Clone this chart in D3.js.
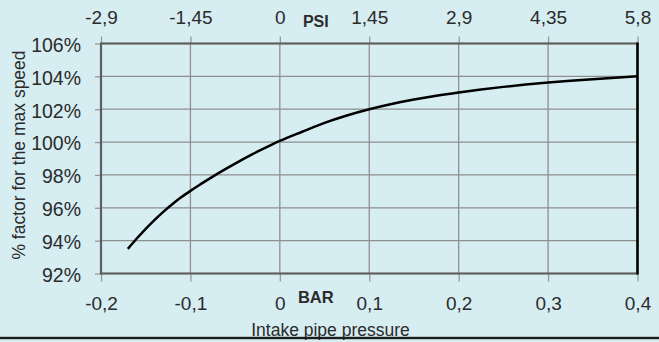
<!DOCTYPE html>
<html>
<head>
<meta charset="utf-8">
<script src="https://cdn.jsdelivr.net/npm/d3@7"></script>
<style>
  html, body { margin: 0; padding: 0; background: #d6edf2; }
  svg { display: block; font-family: "Liberation Sans", Arial, sans-serif; }
</style>
</head>
<body>
<svg id="chart" width="659" height="342"></svg>
<script>
// Intake pipe pressure (bar) and the resulting max-speed factor (%)
const pressureBar = [-0.17, -0.16, -0.15, -0.14, -0.13, -0.12, -0.11, -0.10, -0.09, -0.08,
  -0.07, -0.06, -0.05, -0.04, -0.03, -0.02, -0.01, 0, 0.025, 0.05, 0.075, 0.1, 0.125,
  0.15, 0.175, 0.2, 0.225, 0.25, 0.275, 0.3, 0.325, 0.35, 0.375, 0.4];
const speedFactor = [93.5, 94.13, 94.72, 95.27, 95.77, 96.23, 96.65, 97.03, 97.39, 97.73,
  98.06, 98.38, 98.69, 98.99, 99.28, 99.56, 99.82, 100.07, 100.63, 101.17, 101.62, 102.0, 102.32,
  102.59, 102.82, 103.02, 103.2, 103.36, 103.5, 103.62, 103.73, 103.83, 103.92, 104.0];

// Axis ticks
const barTicks = [-0.2, -0.1, 0, 0.1, 0.2, 0.3, 0.4];
const barTickLabels = ["-0,2", "-0,1", "0", "0,1", "0,2", "0,3", "0,4"];
const psiTicks = [-2.9, -1.45, 0, 1.45, 2.9, 4.35, 5.8];
const psiTickLabels = ["-2,9", "-1,45", "0", "1,45", "2,9", "4,35", "5,8"];
const pctTicks = [92, 94, 96, 98, 100, 102, 104, 106];
const pctTickLabels = ["92%", "94%", "96%", "98%", "100%", "102%", "104%", "106%"];

const svg = d3.select("#chart");
const plotLeft = 101, plotRight = 637.5, plotTop = 43.5, plotBottom = 273.5;

const x = d3.scaleLinear().domain([-0.2, 0.4]).range([plotLeft, plotRight]);
const xPsi = d3.scaleLinear().domain([-2.9, 5.8]).range([plotLeft, plotRight]);
const y = d3.scaleLinear().domain([92, 106]).range([plotBottom, plotTop]);

const textColor = "#2b2b2b";
const gridColor = "#8f8f8f";

// Gridlines
const grid = svg.append("g");
grid.selectAll("line.v").data(barTicks).join("line").attr("class", "v")
  .attr("x1", d => x(d)).attr("x2", d => x(d))
  .attr("y1", plotTop).attr("y2", plotBottom)
  .attr("stroke", gridColor).attr("stroke-width", 1.3);
grid.selectAll("line.h").data(pctTicks).join("line").attr("class", "h")
  .attr("x1", plotLeft).attr("x2", plotRight)
  .attr("y1", d => y(d)).attr("y2", d => y(d))
  .attr("stroke", gridColor).attr("stroke-width", 1.3);

function styleAxis(g) {
  g.select(".domain").remove();
  g.selectAll(".tick line").attr("stroke", "#999").attr("stroke-width", 1.3);
  g.selectAll(".tick text")
    .attr("fill", textColor)
    .style("font-size", "19px");
}

// Bottom axis (bar)
svg.append("g")
  .attr("transform", `translate(0,${plotBottom})`)
  .call(d3.axisBottom(x).tickValues(barTicks)
    .tickFormat((d, i) => barTickLabels[i]).tickSize(8).tickPadding(15))
  .call(styleAxis);

// Top axis (psi)
svg.append("g")
  .attr("transform", `translate(0,${plotTop})`)
  .call(d3.axisTop(xPsi).tickValues(psiTicks)
    .tickFormat((d, i) => psiTickLabels[i]).tickSize(7).tickPadding(13))
  .call(styleAxis);

// Left axis (%)
svg.append("g")
  .attr("transform", `translate(${plotLeft},0)`)
  .call(d3.axisLeft(y).tickValues(pctTicks)
    .tickFormat((d, i) => pctTickLabels[i]).tickSize(6).tickPadding(14))
  .call(styleAxis)
  .call(g => g.selectAll(".tick text").attr("dy", "0.4em").style("font-size", "19.5px"));

// Plot frame
const frame = svg.append("g").attr("stroke", "#5e5e5e").attr("stroke-width", 2.2);
frame.append("line").attr("x1", plotLeft).attr("x2", plotLeft).attr("y1", plotTop - 1).attr("y2", plotBottom + 1);
frame.append("line").attr("x1", plotLeft).attr("x2", plotRight).attr("y1", plotTop).attr("y2", plotTop);
frame.append("line").attr("x1", plotLeft).attr("x2", plotRight).attr("y1", plotBottom).attr("y2", plotBottom);
svg.append("line")
  .attr("x1", plotRight).attr("x2", plotRight).attr("y1", plotTop - 1).attr("y2", plotBottom + 1)
  .attr("stroke", "#000").attr("stroke-width", 2.6);

// Speed factor curve
const line = d3.line().x((d, i) => x(pressureBar[i])).y(d => y(d)).curve(d3.curveMonotoneX);
svg.append("path")
  .datum(speedFactor)
  .attr("d", line)
  .attr("fill", "none")
  .attr("stroke", "#000")
  .attr("stroke-width", 2.5)
  .attr("stroke-linejoin", "round");

// Unit labels
svg.append("text").attr("x", x(0) + 36).attr("y", 27)
  .attr("text-anchor", "middle").attr("fill", textColor)
  .style("font-size", "16px").style("font-weight", "bold").text("PSI");
svg.append("text").attr("x", x(0) + 36).attr("y", 302.5)
  .attr("text-anchor", "middle").attr("fill", textColor)
  .style("font-size", "16.5px").style("font-weight", "bold").text("BAR");

// Axis titles
svg.append("text").attr("x", 330.5).attr("y", 335.5)
  .attr("text-anchor", "middle").attr("fill", textColor)
  .style("font-size", "17.5px").text("Intake pipe pressure");
svg.append("text")
  .attr("transform", "translate(24.5,155) rotate(-90)")
  .attr("text-anchor", "middle").attr("fill", textColor)
  .style("font-size", "17.5px").text("% factor for the max speed");

// Bottom rule
svg.append("rect").attr("x", 0).attr("y", 336.8).attr("width", 659).attr("height", 2.4)
  .attr("fill", "#1c1c1c");
</script>
</body>
</html>
